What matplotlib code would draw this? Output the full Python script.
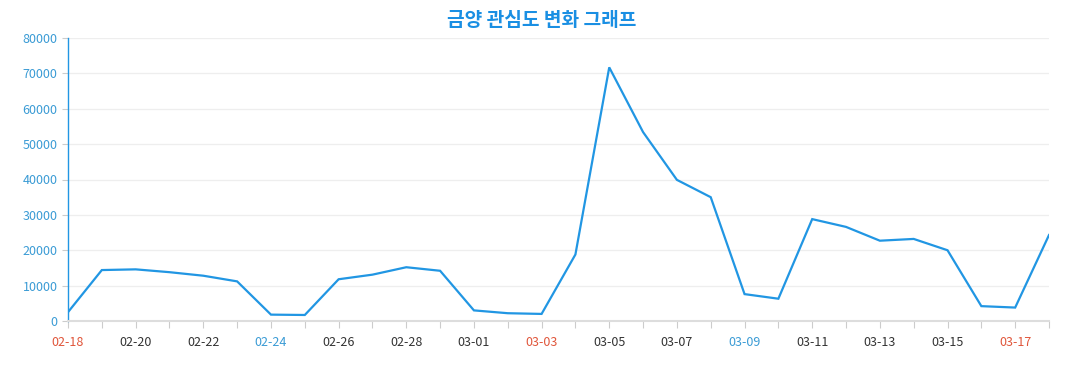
import matplotlib.pyplot as plt

plt.rcParams['font.family'] = ['Noto Sans CJK KR', 'DejaVu Sans']

# --- data ---
dates = ['02-18', '02-19', '02-20', '02-21', '02-22', '02-23', '02-24', '02-25',
         '02-26', '02-27', '02-28', '02-29', '03-01', '03-02', '03-03', '03-04',
         '03-05', '03-06', '03-07', '03-08', '03-09', '03-10', '03-11', '03-12',
         '03-13', '03-14', '03-15', '03-16', '03-17', '03-18']
values = [2500, 14400, 14600, 13800, 12800, 11200, 1800, 1700,
          11800, 13100, 15200, 14200, 3000, 2200, 2000, 18800,
          71700, 53400, 39900, 35000, 7600, 6300, 28800, 26600,
          22700, 23200, 20000, 4200, 3800, 24300]
sundays = ['02-18', '03-03', '03-17']
saturdays = ['02-24', '03-09']
y_ticks = [0, 10000, 20000, 30000, 40000, 50000, 60000, 70000, 80000]

BLUE = '#2196e3'
LABEL_BLUE = '#3a9bd5'
RED = '#e0553a'

fig = plt.figure(figsize=(10.77, 3.9), dpi=100)
ax = fig.add_axes([68 / 1077, 1 - 321 / 390, (1049 - 68) / 1077, (321 - 38) / 390])

x = list(range(len(dates)))
ax.plot(x, values, color=BLUE, linewidth=1.6, solid_joinstyle='miter')

ax.set_xlim(0, len(dates) - 1)
ax.set_ylim(0, 80000)
ax.set_yticks(y_ticks)
ax.set_yticklabels([str(v) for v in y_ticks])
ax.tick_params(axis='y', colors='#cccccc', labelcolor=LABEL_BLUE, labelsize=9, length=4, width=0.8)

ax.set_xticks(x)
ax.set_xticklabels([d if i % 2 == 0 else '' for i, d in enumerate(dates)])
ax.tick_params(axis='x', colors='#cccccc', labelcolor='#333333', labelsize=9, length=5, width=0.8, pad=6)
for lbl, d in zip(ax.get_xticklabels(), dates):
    if d in sundays:
        lbl.set_color(RED)
    elif d in saturdays:
        lbl.set_color(LABEL_BLUE)

ax.grid(axis='y', color='#eeeeee', linewidth=0.9)
ax.set_axisbelow(True)
for s in ['top', 'right']:
    ax.spines[s].set_visible(False)
ax.spines['left'].set_color(BLUE)
ax.spines['left'].set_linewidth(1.0)
ax.spines['bottom'].set_color('#dddddd')
ax.spines['bottom'].set_linewidth(1.5)

fig.text(542 / 1077, 1 - 21 / 390, '금양 관심도 변화 그래프', ha='center', va='center',
         fontsize=13.8, fontweight='bold', color='#1a8fe3')

fig.savefig('out.png', dpi=100)
